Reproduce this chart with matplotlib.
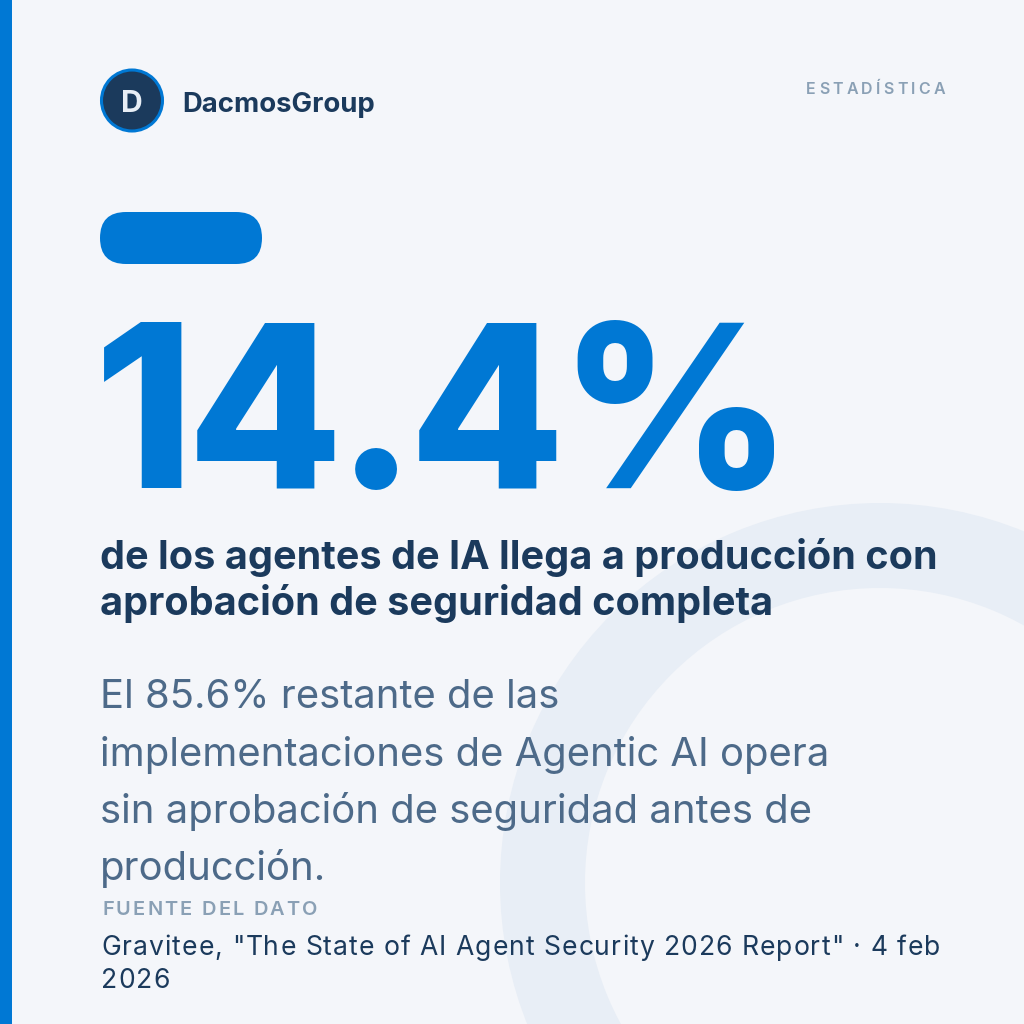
import matplotlib
matplotlib.use("Agg")
import matplotlib.pyplot as plt
from matplotlib.font_manager import FontProperties, findfont, get_font
from matplotlib.ft2font import LOAD_NO_HINTING
from matplotlib.patches import Circle, FancyBboxPatch, Rectangle, Wedge

# content
brand_initial = "D"
brand_name = "DacmosGroup"
category_label = "ESTADÍSTICA"
stat_value = 14.4
remaining_value = 85.6
headline_lines = [
    "de los agentes de IA llega a producción con",
    "aprobación de seguridad completa",
]
body_lines = [
    f"El {remaining_value}% restante de las",
    "implementaciones de Agentic AI opera",
    "sin aprobación de seguridad antes de",
    "producción.",
]
source_label = "FUENTE DEL DATO"
source_lines = [
    'Gravitee, "The State of AI Agent Security 2026 Report" · 4 feb',
    "2026",
]

BG = "#F4F6FA"
BLUE = "#0078D4"
NAVY = "#1B3A5C"
SLATE = "#4D6A89"
MUTED = "#8AA0B5"
RING = "#E8EEF6"
FONT = ["Inter", "DejaVu Sans"]

PX = 0.72  # points per pixel at dpi 100


def char_advances(fig, ax, text, size_px, weight):
    prop = FontProperties(family=FONT, weight=weight, size=size_px * PX)
    font = get_font(findfont(prop))
    font.set_size(size_px * PX, 100)

    def raw(s):
        return [font.load_char(ord(c), flags=LOAD_NO_HINTING).linearHoriAdvance / 65536
                for c in s]

    # calibrate raw advances against the renderer's own measurement
    sample = "Hamburgefontsiv HAMBURGEFONTSIV 0123456789 " * 2
    probe = ax.text(0, 0, sample, fontproperties=prop)
    measured = probe.get_window_extent(fig.canvas.get_renderer()).width
    probe.remove()
    scale = measured / sum(raw(sample))
    return [value * scale for value in raw(text)], prop


def tracked_text(fig, ax, x, y, text, size_px, tracking_px, weight="normal",
                 ha="left", **kwargs):
    widths, prop = char_advances(fig, ax, text, size_px, weight)
    total = sum(widths) + tracking_px * (len(text) - 1)
    cursor = x - total if ha == "right" else x
    for char, width in zip(text, widths):
        ax.text(cursor, y, char, fontproperties=prop, va="baseline", ha="left", **kwargs)
        cursor += width + tracking_px


fig = plt.figure(figsize=(10.24, 10.24), dpi=100)
fig.patch.set_facecolor(BG)
ax = fig.add_axes([0, 0, 1, 1])
ax.set_xlim(0, 1024)
ax.set_ylim(1024, 0)
ax.set_facecolor(BG)
ax.axis("off")

# decorative ring and left accent bar
ax.add_patch(Wedge((880, 883), 380, 0, 360, width=85, facecolor=RING,
                   edgecolor="none", zorder=0))
ax.add_patch(Rectangle((0, 0), 12, 1024, facecolor=BLUE, edgecolor="none", zorder=1))

# brand
ax.add_patch(Circle((132, 100.5), 30.5, facecolor=NAVY, edgecolor=BLUE,
                    linewidth=2.2, zorder=2))
ax.text(132, 112, brand_initial, fontsize=30 * PX, family=FONT, weight="bold",
        color="#E8EEF5", ha="center", va="baseline", zorder=3)
ax.text(182, 111.5, brand_name, fontsize=27.5 * PX, family=FONT, weight="bold",
        color=NAVY, ha="left", va="baseline")

tracked_text(fig, ax, 945, 94, category_label, 16, 3.2, weight="semibold",
             ha="right", color=MUTED)

# accent pill
ax.add_patch(FancyBboxPatch((100, 212), 162, 52,
                            boxstyle="round,pad=0,rounding_size=26",
                            facecolor=BLUE, edgecolor="none"))

# big number
tracked_text(fig, ax, 94, 488, f"{stat_value}%", 227, -7.2, weight="heavy", color=BLUE)

# headline
for index, line in enumerate(headline_lines):
    ax.text(100, 569 + index * 46, line, fontsize=39.6 * PX, family=FONT,
            weight="bold", color=NAVY, ha="left", va="baseline")

# body
for index, line in enumerate(body_lines):
    ax.text(100, 708 + index * 57.5, line, fontsize=40 * PX, family=FONT,
            color=SLATE, ha="left", va="baseline")

# source
tracked_text(fig, ax, 102, 915, source_label, 20, 2.2, weight="semibold", color=MUTED)
for index, line in enumerate(source_lines):
    tracked_text(fig, ax, 101, 955 + index * 33, line, 26.5, 1.02, color=NAVY)

fig.savefig("out.png", dpi=100, facecolor=BG)
